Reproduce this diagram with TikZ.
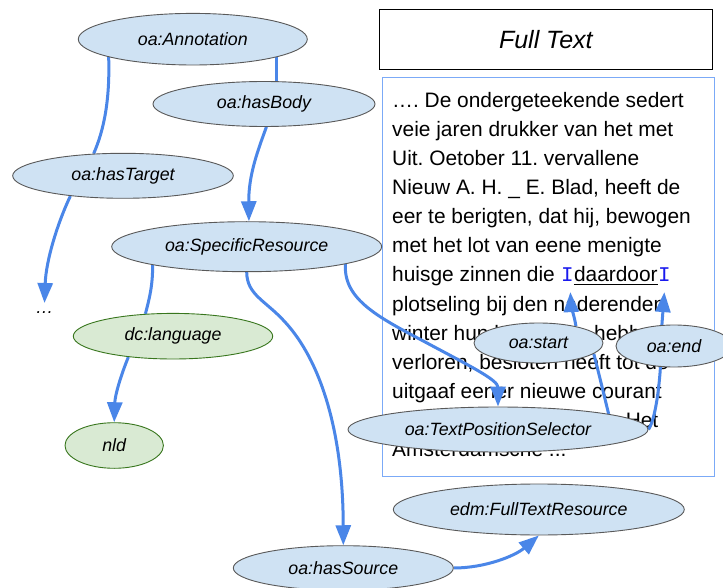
\documentclass[tikz,border=0pt]{standalone}
\usepackage{fontspec}
\setmainfont{Liberation Sans}
\setmonofont{Liberation Mono}
\usetikzlibrary{shapes.geometric,arrows.meta,calc}
\definecolor{lblue}{HTML}{CFE2F3}
\definecolor{lgreen}{HTML}{D9EAD3}
\definecolor{dgreen}{HTML}{38761D}
\definecolor{egray}{HTML}{595959}
\definecolor{ablue}{HTML}{4A86E8}
\definecolor{boxblue}{HTML}{7BAAF7}
\definecolor{mblue}{HTML}{1A1AEE}
\pgfdeclarelayer{bg}
\pgfdeclarelayer{edges}
\pgfsetlayers{bg,edges,main}
\newcommand\labf{\fontsize{17.8}{20}\selectfont\itshape}
\newcommand\bodyf{\fontsize{20.9}{25}\selectfont}
\frenchspacing
\begin{document}
\begin{tikzpicture}[x=1pt,y=-1pt,
  bnode/.style={ellipse,draw=egray,fill=lblue,line width=0.9pt,inner sep=0pt,font=\labf},
  gnode/.style={bnode,draw=dgreen,fill=lgreen},
  conn/.style={draw=ablue,line width=3pt},
  arr/.style={conn,-{Triangle[length=20pt,width=15pt]}},
  bodyline/.style={anchor=base west,inner sep=0pt,font=\bodyf},
  marker/.style={anchor=base west,inner sep=0pt,font=\fontsize{20.9}{25}\selectfont\ttfamily,text=mblue}]
\useasboundingbox (0,0) rectangle (723,588);

% ---------- text panel ----------
\begin{pgfonlayer}{bg}
\fill[white] (0,0) rectangle (723,588);
\node[draw=black,line width=1.2pt,minimum width=333pt,minimum height=60pt,inner sep=0pt,
      font=\fontsize{25}{28}\selectfont\itshape] (ftbox) at (545.8,39.3) {Full Text};
\node[draw=boxblue,line width=1.3pt,minimum width=331.5pt,minimum height=399pt,inner sep=0pt,
      anchor=north west] (tbox) at (382,77) {};
\node[bodyline] (l1) at (392,107.3) {…. De ondergeteekende sedert};
\node[bodyline] (l2) at (392,136.4) {veie jaren drukker van het met};
\node[bodyline] (l3) at (392,165.5) {Uit. Oetober 11. vervallene};
\node[bodyline] (l4) at (392,194.6) {Nieuw A. H. \_ E. Blad, heeft de};
\node[bodyline] (l5) at (392,223.7) {eer te berigten, dat hij, bewogen};
\node[bodyline] (l6) at (392,252.8) {met het lot van eene menigte};
\node[bodyline] (l7) at (392,281.9) {huisge zinnen die\kern0.2778em};
\node[marker] (m1) at (l7.base east) {I};
\node[bodyline] (dd) at (m1.base east) {daardoor};
\node[marker] (m2) at (dd.base east) {I};
\draw[black,line width=1.3pt] ([yshift=-2.3pt]dd.south west) -- ([yshift=-2.3pt]dd.south east);
\node[bodyline] (l8) at (392,311) {plotseling bij den naderenden};
\node[bodyline] (l9) at (392,340.1) {winter hun bestaan};
\node[bodyline] (l9b) at (594,340.1) {hebben};
\node[bodyline] (l10) at (392,369.2) {verloren, besloten heeft tot de};
\node[bodyline] (l11) at (392,398.3) {uitgaaf eener nieuwe courant};
\node[bodyline,anchor=base east] (l12) at (658.5,427.4) {Het};
\node[bodyline] (l13) at (392,456.5) {Amsterdamsche ...};
\end{pgfonlayer}

% ---------- nodes ----------
\node[bnode,minimum width=229pt,minimum height=51.6pt] (ann) at (192.8,39.2) {oa:Annotation};
\node[bnode,minimum width=222pt,minimum height=45pt] (bdy) at (264,104) {oa:hasBody};
\node[bnode,minimum width=220.6pt,minimum height=45pt] (tgt) at (123,175.8) {oa:hasTarget};
\node[bnode,minimum width=270pt,minimum height=50pt] (sr) at (246.7,246.7) {oa:SpecificResource};
\node[inner sep=0pt,anchor=base,font=\labf] (dts) at (44.5,313) {…};
\node[gnode,minimum width=199.4pt,minimum height=45.6pt] (lang) at (173,336.2) {dc:language};
\node[gnode,minimum width=98.4pt,minimum height=45.6pt] (nld) at (114.2,445.5) {nld};
\node[bnode,minimum width=129pt,minimum height=40pt] (st) at (538.5,343) {oa:start};
\node[bnode,minimum width=116pt,minimum height=42pt] (en) at (674,346) {oa:end};
\node[bnode,minimum width=300pt,minimum height=45pt] (tps) at (498,429.5) {oa:TextPositionSelector};
\node[bnode,minimum width=291pt,minimum height=51pt] (ftr) at (538.8,509.5) {edm:FullTextResource};
\node[bnode,minimum width=220pt,minimum height=44.6pt] (hs) at (343.3,568) {oa:hasSource};

\coordinate (p1) at ([xshift=3pt,yshift=-10pt]m1.south);
\coordinate (p2) at ([yshift=-10pt]m2.south);

% ---------- connectors ----------
\begin{pgfonlayer}{edges}
\draw[conn] (ann.192) .. controls (110,100) and (104,130) .. (tgt.143);
\draw[arr] (tgt.201) .. controls (58,222) and (46,260) .. ([yshift=10pt]dts.base);
\draw[conn] (ann.-12.5) -- (ann.-12.5 |- bdy.center);
\draw[arr] (bdy.-84) .. controls (258,150) and (248.5,175) .. (sr.85);
\draw[conn] (sr.191) .. controls (153,285) and (149,300) .. (lang.141);
\draw[arr] (lang.205) .. controls (121,375) and (115,395) .. (nld.north);
\draw[arr] (sr.south) .. controls (247,295) and (265,300) .. (285,322)
           .. controls (320,360) and (343,430) .. (hs.north);
\draw[arr] (sr.-10) .. controls (343,300) and (380,318) .. (427,343)
           .. controls (470,366) and (498,380) .. (tps.north);
\draw[conn] (tps.8) .. controls (604,395) and (598,370) .. (st.-11);
\draw[arr] (st.24) .. controls (574,315) and (571,305) .. (p1);
\draw[conn] (tps.east) .. controls (655,420) and (659,390) .. (en.237);
\draw[arr] (en.120) -- (p2);
\draw[arr] (hs.east) .. controls (485,568) and (515,556) .. (ftr.south);
\end{pgfonlayer}
\end{tikzpicture}
\end{document}
